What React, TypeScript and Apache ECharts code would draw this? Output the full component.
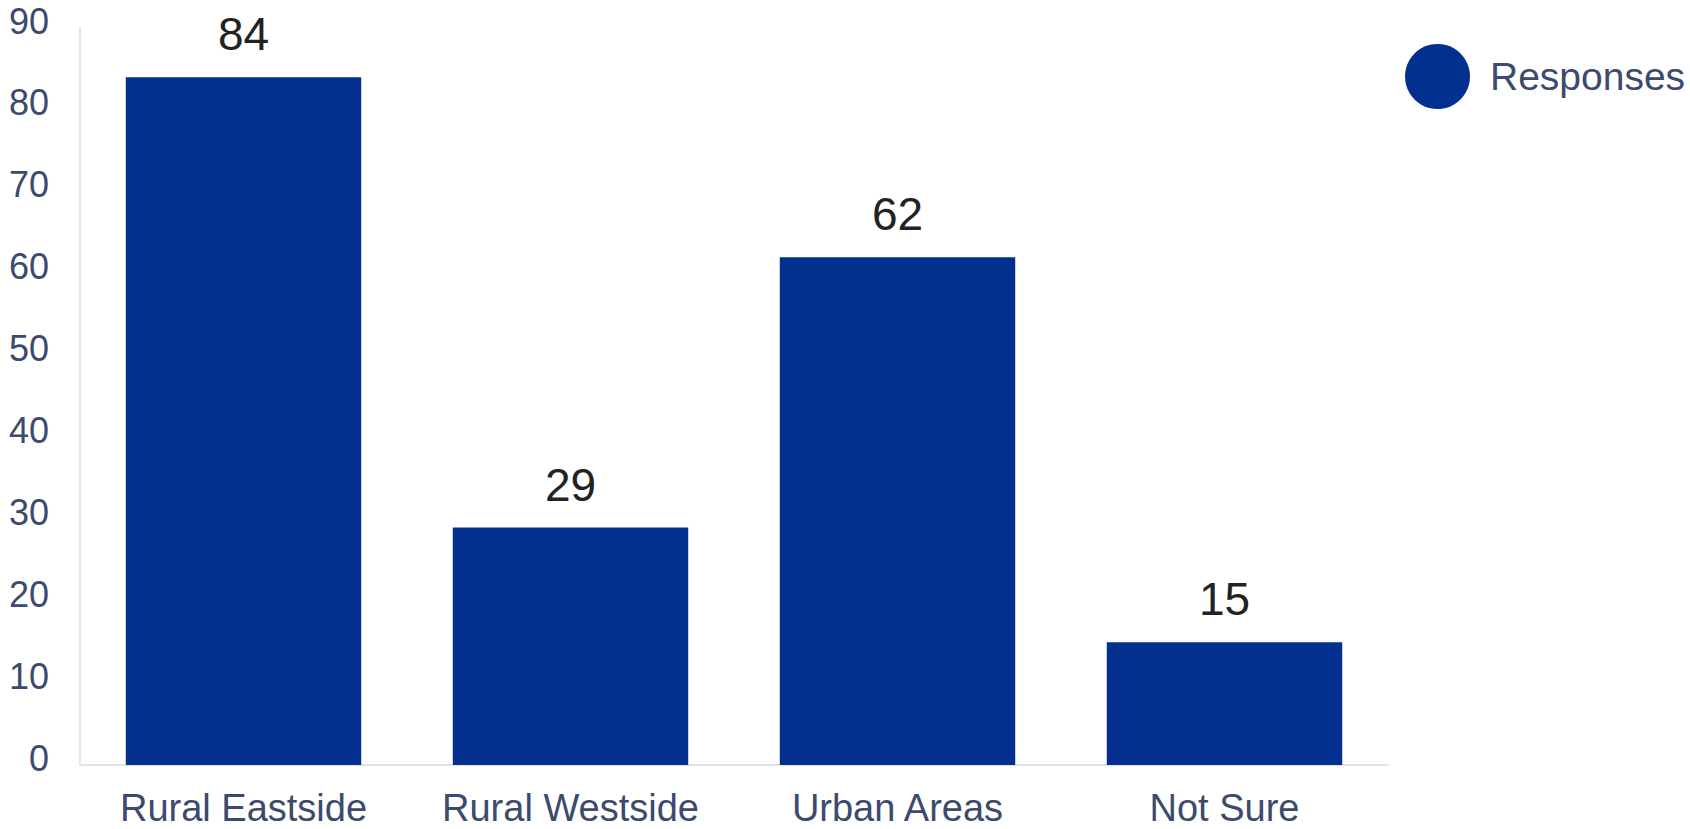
import React, { useEffect, useRef } from "react";
import * as echarts from "echarts";

const categories = ["Rural Eastside", "Rural Westside", "Urban Areas", "Not Sure"];
const responses = [84, 29, 62, 15];
const seriesName = "Responses";

export default function App() {
  const ref = useRef<HTMLDivElement>(null);
  useEffect(() => {
    if (!ref.current) return;
    const chart = echarts.init(ref.current, undefined, { renderer: "svg" });
    const font = "'Liberation Sans', Arial, sans-serif";
    chart.setOption({
      animation: false,
      backgroundColor: "#ffffff",
      grid: { left: 80, right: 302, top: 28, bottom: 64, containLabel: false },
      legend: {
        data: [{ name: seriesName, icon: "circle" }],
        left: 1400,
        top: 39,
        itemWidth: 65,
        itemHeight: 65,
        textStyle: {
          fontFamily: font,
          fontSize: 39,
          color: "#3c4a6e",
          padding: [0, 0, 0, 15],
        },
      },
      xAxis: {
        type: "category",
        data: categories,
        axisLine: { show: true, lineStyle: { color: "#e3e3e3", width: 2 } },
        axisTick: { show: false },
        axisLabel: {
          interval: 0,
          hideOverlap: false,
          fontFamily: font,
          fontSize: 38,
          color: "#3c4a6e",
          margin: 24,
        },
      },
      yAxis: {
        type: "value",
        min: 0,
        max: 90,
        interval: 10,
        axisLine: { show: true, lineStyle: { color: "#e6e6e6", width: 2 } },
        axisTick: { show: false },
        splitLine: { show: false },
        axisLabel: {
          fontFamily: font,
          fontSize: 36,
          color: "#3c4a6e",
          margin: 31,
          formatter: "{a|{value}}",
          rich: {
            a: {
              fontFamily: font,
              fontSize: 36,
              color: "#3c4a6e",
              padding: [0, 0, 14, 0],
            },
          },
        },
      },
      series: [
        {
          name: seriesName,
          type: "bar",
          data: responses,
          barWidth: "72%",
          itemStyle: { color: "#03308f" },
          label: {
            show: true,
            position: "top",
            distance: 20,
            fontFamily: font,
            fontSize: 46,
            color: "#222222",
          },
        },
      ],
    });
    return () => chart.dispose();
  }, []);
  return (
    <div
      ref={ref}
      style={{ position: "fixed", left: 0, top: 0, width: 1690, height: 829 }}
    />
  );
}
